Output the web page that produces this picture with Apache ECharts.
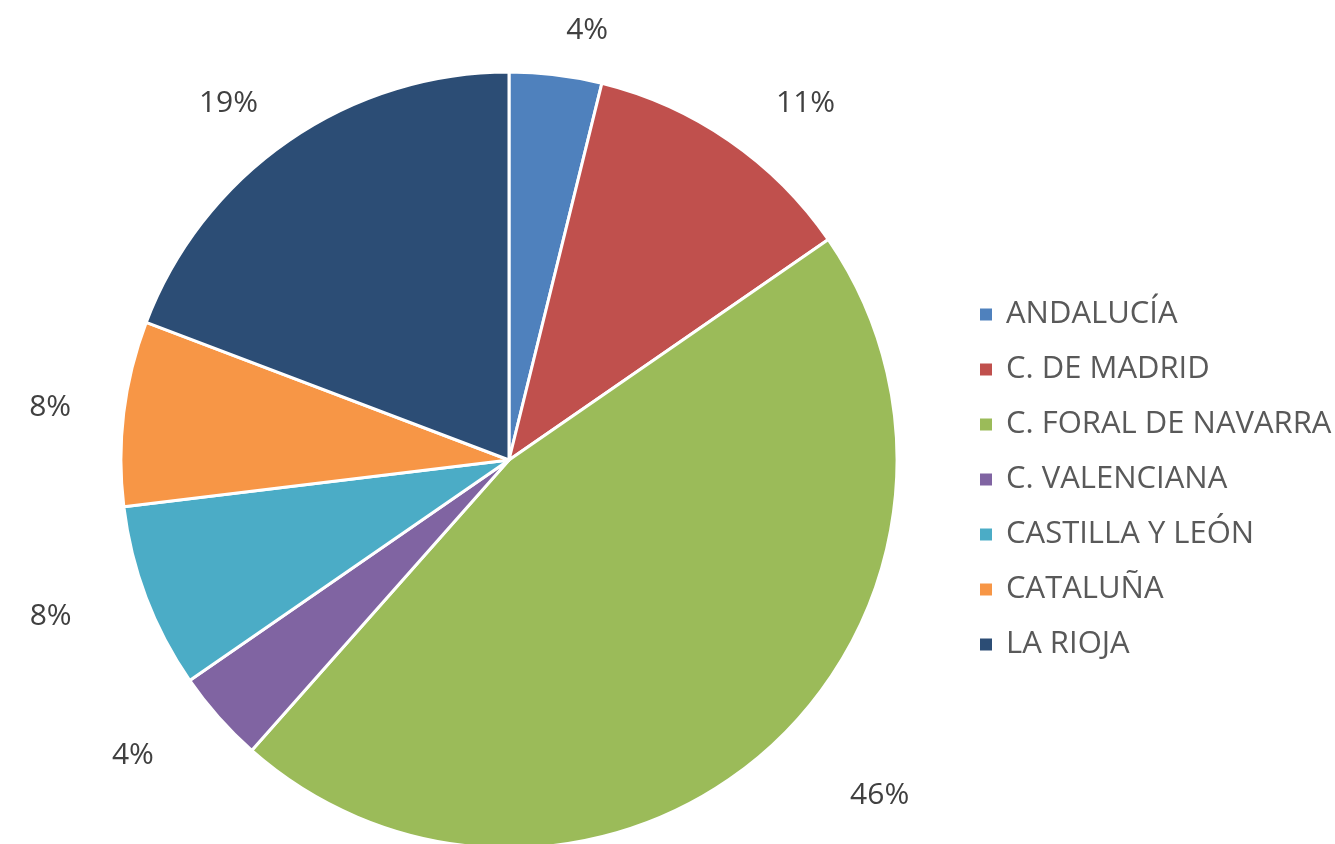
<!DOCTYPE html>
<html>
<head>
<meta charset="utf-8">
<script src="https://cdn.jsdelivr.net/npm/echarts@6/dist/echarts.min.js"></script>
<style>
  html, body { margin: 0; padding: 0; background: #fff; }
  #chart { width: 1335px; height: 844px; }
</style>
</head>
<body>
<div id="chart"></div>
<script>
const regions = [
  "ANDALUCÍA",
  "C. DE MADRID",
  "C. FORAL DE NAVARRA",
  "C. VALENCIANA",
  "CASTILLA Y LEÓN",
  "CATALUÑA",
  "LA RIOJA",
];
const counts = [1, 3, 12, 1, 2, 2, 5];
const colors = ["#4F81BD", "#C0504D", "#9BBB59", "#8064A2", "#4BACC6", "#F79646", "#2C4D75"];
// how far each percent label sits from the pie (hidden label line lengths)
const labelLen = [45, 45, 60, 57, 53, 45, 45];
const labelLen2 = [0, 16, 39, 17, 20, 3, 0];

// whole percents that add up to 100 (largest remainder), like the spreadsheet does
const total = counts.reduce((a, b) => a + b, 0);
const raw = counts.map((c) => (c / total) * 100);
const pct = raw.map(Math.floor);
let left = 100 - pct.reduce((a, b) => a + b, 0);
raw
  .map((r, i) => [r - Math.floor(r), i])
  .sort((a, b) => b[0] - a[0])
  .slice(0, left)
  .forEach(([, i]) => pct[i]++);

const chart = echarts.init(document.getElementById("chart"));
chart.setOption({
  animation: false,
  color: colors,
  textStyle: { fontFamily: "Open Sans" },
  legend: {
    orient: "vertical",
    left: 973,
    top: 294,
    itemWidth: 14,
    itemHeight: 14,
    itemGap: 24,
    icon: "rect",
    textStyle: { fontSize: 31, color: "#595959", lineHeight: 31, padding: [0, 0, 0, 8] },
    data: regions,
  },
  series: [
    {
      type: "pie",
      center: [509, 460],
      radius: 388,
      startAngle: 90,
      clockwise: true,
      avoidLabelOverlap: false,
      itemStyle: { borderColor: "#fff", borderWidth: 3 },
      label: {
        show: true,
        position: "outside",
        formatter: (p) => pct[p.dataIndex] + "%",
        fontSize: 30,
        color: "#404040",
      },
      labelLine: { show: false },
      emphasis: { disabled: true },
      data: regions.map((name, i) => ({
        name,
        value: counts[i],
        labelLine: { show: false, length: labelLen[i], length2: labelLen2[i] },
      })),
    },
  ],
});
</script>
</body>
</html>
